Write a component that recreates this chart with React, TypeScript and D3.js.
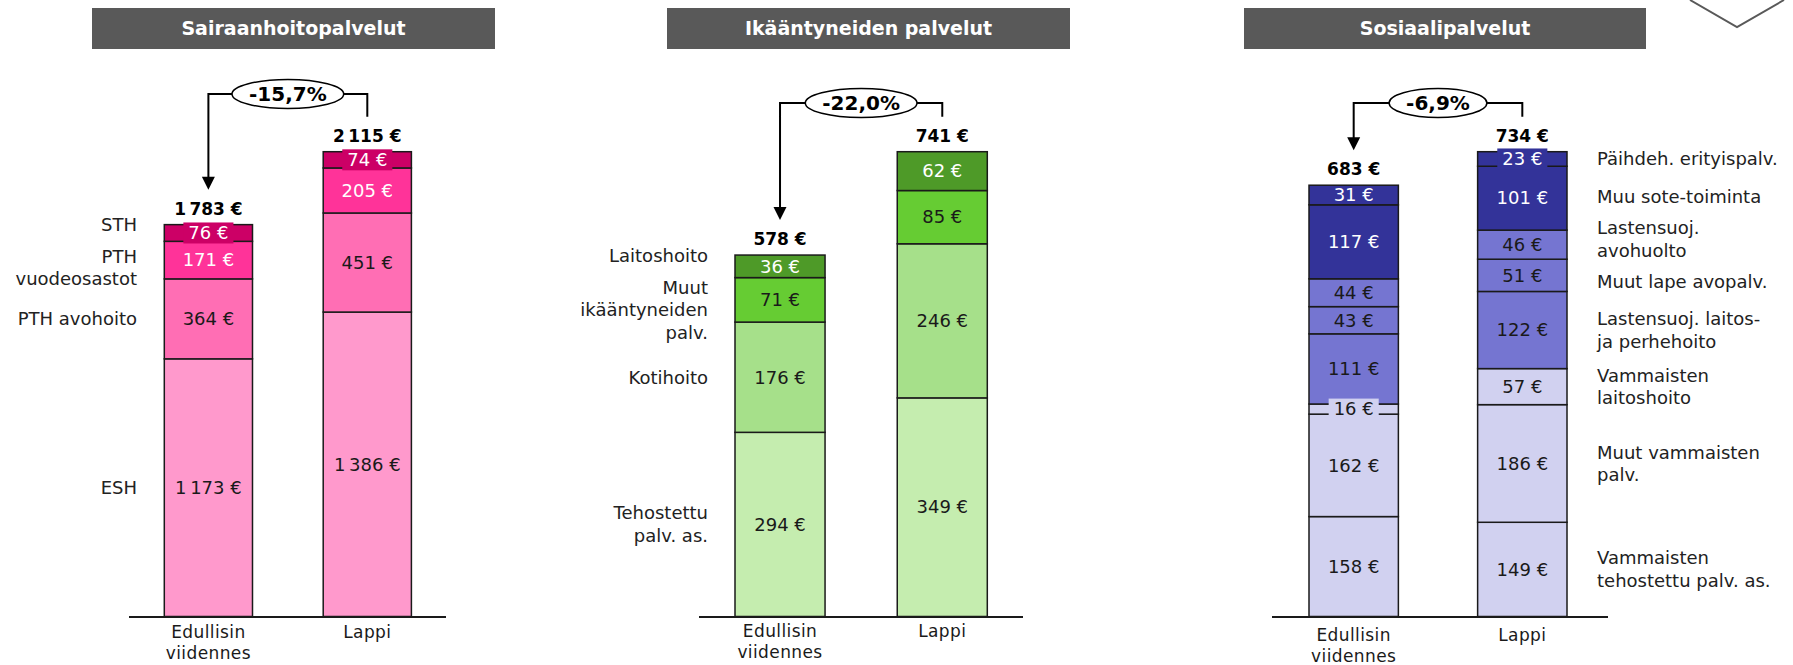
import { useEffect, useRef } from 'react';
import * as d3 from 'd3';

// categories on the x axis of every panel
const categories = ['Edullisin\nviidennes', 'Lappi'];

// Sairaanhoitopalvelut (bottom to top)
const healthSegments = ['ESH', 'PTH avohoito', 'PTH\nvuodeosastot', 'STH'];
const healthEdullisin = [1173, 364, 171, 76];
const healthLappi = [1386, 451, 205, 74];
const healthTotals = [1783, 2115];
const healthColors = ['#FF99CC', '#FF6EB4', '#FF3399', '#CC0066'];

// Ikääntyneiden palvelut (bottom to top)
const elderlySegments = ['Tehostettu\npalv. as.', 'Kotihoito', 'Muut\nikääntyneiden\npalv.', 'Laitoshoito'];
const elderlyEdullisin = [294, 176, 71, 36];
const elderlyLappi = [349, 246, 85, 62];
const elderlyTotals = [578, 741];
const elderlyColors = ['#C5EDAF', '#A6E08A', '#66CC33', '#4E9A28'];

// Sosiaalipalvelut (bottom to top)
const socialSegments = [
  'Vammaisten\ntehostettu palv. as.',
  'Muut vammaisten\npalv.',
  'Vammaisten\nlaitoshoito',
  'Lastensuoj. laitos-\nja perhehoito',
  'Muut lape avopalv.',
  'Lastensuoj.\navohuolto',
  'Muu sote-toiminta',
  'Päihdeh. erityispalv.',
];
const socialEdullisin = [158, 162, 16, 111, 43, 44, 117, 31];
const socialLappi = [149, 186, 57, 122, 51, 46, 101, 23];
const socialTotals = [683, 734];
const socialColors = ['#D1D1F0', '#D1D1F0', '#D1D1F0', '#7575D1', '#7575D1', '#7575D1', '#333399', '#333399'];

const titles = ['Sairaanhoitopalvelut', 'Ikääntyneiden palvelut', 'Sosiaalipalvelut'];

const panels = [
  { title: titles[0], segments: healthSegments, values: [healthEdullisin, healthLappi], totals: healthTotals, colors: healthColors },
  { title: titles[1], segments: elderlySegments, values: [elderlyEdullisin, elderlyLappi], totals: elderlyTotals, colors: elderlyColors },
  { title: titles[2], segments: socialSegments, values: [socialEdullisin, socialLappi], totals: socialTotals, colors: socialColors },
];

// page layout for each panel
const layouts = [
  { titleX: [92, 495], bars: [164.3, 411.4], pad: 0.445, axis: [129, 446], legendBar: 0, legendX: 137, anchor: 'end', bracketY: 94, catDy: 16 },
  { titleX: [667, 1070], bars: [735, 987.3], pad: 0.445, axis: [699, 1023], legendBar: 0, legendX: 708, anchor: 'end', bracketY: 103, catDy: 15 },
  { titleX: [1244, 1646], bars: [1309, 1567], pad: 0.47, axis: [1272, 1608], legendBar: 1, legendX: 1597, anchor: 'start', bracketY: 103, catDy: 19 },
];

const W = 1793, H = 665;
const baseY = 616.5, topY = 151.7;
const dark = '#1a1a1a';

const fi = d3.formatLocale({
  decimal: ',',
  thousands: '\u202f',
  grouping: [3],
  currency: ['', '\u00a0€'],
  minus: '-',
} as any);
const euro = fi.format('$,.0f');
const pct = fi.format('.1%');

// white text on dark fills
const textColor = (fill: string) => (d3.hsl(fill).l < 0.5 || fill === '#FF3399' ? '#fff' : dark);

const App = () => {
  const ref = useRef<SVGSVGElement>(null);

  useEffect(() => {
    const svg = d3.select(ref.current);
    svg.selectAll('*').remove();

    panels.forEach((p, pi) => {
      const L = layouts[pi];
      const g = svg.append('g');

      // title bar
      g.append('rect')
        .attr('x', L.titleX[0]).attr('y', 8)
        .attr('width', L.titleX[1] - L.titleX[0]).attr('height', 41)
        .attr('fill', '#595959');
      g.append('text')
        .attr('x', (L.titleX[0] + L.titleX[1]) / 2).attr('y', 28.5).attr('dy', '0.35em')
        .attr('text-anchor', 'middle').attr('fill', '#fff')
        .attr('font-weight', 'bold').attr('font-size', 19)
        .text(p.title);

      const rows = categories.map((c, ci) => {
        const o: any = { cat: c };
        p.segments.forEach((s, si) => (o[s] = p.values[ci][si]));
        return o;
      });
      const series = d3.stack<any>().keys(p.segments)(rows);
      const sums = p.values.map((v) => d3.sum(v));

      const x = d3.scaleBand().domain(categories).range(L.bars as [number, number]).paddingInner(L.pad);
      const y = d3.scaleLinear().domain([0, d3.max(sums) as number]).range([baseY, topY]);
      const bw = x.bandwidth();

      // bars
      series.forEach((s, si) => {
        g.selectAll(null)
          .data(s)
          .join('rect')
          .attr('x', (d: any) => x(d.data.cat) as number)
          .attr('y', (d) => y(d[1]))
          .attr('width', bw)
          .attr('height', (d) => y(d[0]) - y(d[1]))
          .attr('fill', p.colors[si])
          .attr('stroke', dark)
          .attr('stroke-width', 1.5);
      });

      // segment labels
      series.forEach((s, si) => {
        s.forEach((d: any, ci) => {
          const h = y(d[0]) - y(d[1]);
          const cx = (x(d.data.cat) as number) + bw / 2;
          const cy = (y(d[0]) + y(d[1])) / 2;
          const lg = g.append('g');
          const box = lg.append('rect');
          const t = lg.append('text')
            .attr('x', cx).attr('y', cy).attr('dy', '0.35em')
            .attr('text-anchor', 'middle').attr('font-size', 18)
            .attr('fill', textColor(p.colors[si]))
            .text(euro(p.values[ci][si]));
          if (h < 18) {
            const tw = (t.node() as SVGTextElement).getComputedTextLength();
            box.attr('x', cx - tw / 2 - 5).attr('y', cy - 10.5)
              .attr('width', tw + 10).attr('height', 21)
              .attr('fill', p.colors[si]);
          } else box.remove();
        });
      });

      // totals
      categories.forEach((c, ci) => {
        g.append('text')
          .attr('x', (x(c) as number) + bw / 2).attr('y', y(sums[ci]) - 16).attr('dy', '0.35em')
          .attr('text-anchor', 'middle').attr('font-weight', 'bold').attr('font-size', 17)
          .attr('fill', '#000')
          .text(euro(p.totals[ci]));
      });

      // axis line
      g.append('line')
        .attr('x1', L.axis[0]).attr('x2', L.axis[1])
        .attr('y1', baseY + 0.5).attr('y2', baseY + 0.5)
        .attr('stroke', dark).attr('stroke-width', 2);

      // category labels
      categories.forEach((c) => {
        c.split('\n').forEach((line, li) => {
          g.append('text')
            .attr('x', (x(c) as number) + bw / 2).attr('y', baseY + L.catDy + li * 21).attr('dy', '0.35em')
            .attr('text-anchor', 'middle').attr('font-size', 17).attr('letter-spacing', 0.4)
            .attr('fill', dark)
            .text(line);
        });
      });

      // change bracket
      const cx0 = (x(categories[0]) as number) + bw / 2;
      const cx1 = (x(categories[1]) as number) + bw / 2;
      const top0 = y(sums[0]), top1 = y(sums[1]);
      g.append('path')
        .attr('d', `M${cx1},${top1 - 35}V${L.bracketY}H${cx0}V${top0 - 47}`)
        .attr('fill', 'none').attr('stroke', '#000').attr('stroke-width', 2);
      g.append('path')
        .attr('d', `M${cx0 - 6.5},${top0 - 48}L${cx0 + 6.5},${top0 - 48}L${cx0},${top0 - 35}Z`)
        .attr('fill', '#000');
      const ell = g.append('ellipse');
      const pt = g.append('text')
        .attr('x', (cx0 + cx1) / 2).attr('y', L.bracketY).attr('dy', '0.35em')
        .attr('text-anchor', 'middle').attr('font-weight', 'bold').attr('font-size', 20)
        .attr('fill', '#000')
        .text(pct((p.totals[0] - p.totals[1]) / p.totals[1]));
      const pw = (pt.node() as SVGTextElement).getComputedTextLength();
      ell.attr('cx', (cx0 + cx1) / 2).attr('cy', L.bracketY)
        .attr('rx', pw / 2 + 17).attr('ry', 14.5)
        .attr('fill', '#fff').attr('stroke', '#000').attr('stroke-width', 1.5);

      // segment names, next to one bar, pushed apart where they collide
      const lineH = 22.5, gap = 9;
      const lb = L.legendBar;
      const items = series.map((s, si) => ({
        lines: p.segments[si].split('\n'),
        y: (y(s[lb][0]) + y(s[lb][1])) / 2,
      })).reverse();
      for (let it = 0; it < 60; it++) {
        for (let i = 0; i < items.length - 1; i++) {
          const a = items[i], b = items[i + 1];
          const need = (a.lines.length + b.lines.length) * lineH / 2 + gap;
          const d = b.y - a.y;
          if (d < need) {
            const sh = (need - d) / 2;
            a.y -= sh;
            b.y += sh;
          }
        }
      }
      items.forEach((item) => {
        item.lines.forEach((line, li) => {
          g.append('text')
            .attr('x', L.legendX)
            .attr('y', item.y - ((item.lines.length - 1) * lineH) / 2 + li * lineH)
            .attr('dy', '0.35em')
            .attr('text-anchor', L.anchor).attr('font-size', 18)
            .attr('fill', '#222')
            .text(line);
        });
      });
    });

    // chevron in the top-right corner
    svg.append('path')
      .attr('d', 'M1690,0L1737,27L1784,0')
      .attr('fill', 'none').attr('stroke', '#595959').attr('stroke-width', 2);
  }, []);

  return (
    <svg
      ref={ref}
      width={W}
      height={H}
      style={{ position: 'absolute', left: 0, top: 0, background: '#fff' }}
      fontFamily="'DejaVu Sans', sans-serif"
    />
  );
};

export default App;
